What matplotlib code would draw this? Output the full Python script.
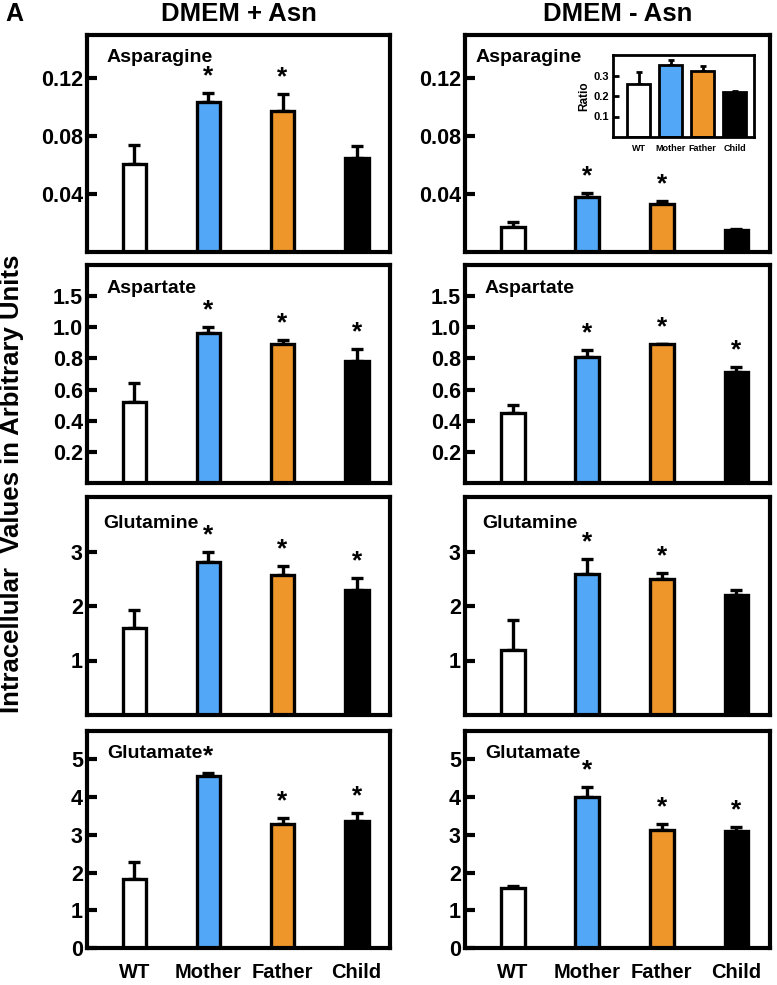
import numpy as np
import matplotlib
matplotlib.use('Agg')
import matplotlib.pyplot as plt

plt.rcParams['font.family'] = ['Liberation Sans', 'DejaVu Sans']
plt.rcParams['font.weight'] = 'bold'

# grupos e cores
groups = ['WT', 'Mother', 'Father', 'Child']
bar_colors = ['white', '#52A8F7', '#EF962B', 'black']

# valores (media, erro superior)
asn_plus = [0.061, 0.104, 0.0975, 0.065]
asn_plus_err = [0.013, 0.006, 0.0115, 0.008]
asn_minus = [0.0175, 0.038, 0.033, 0.0155]
asn_minus_err = [0.0035, 0.0027, 0.002, 0.0005]

asp_plus = [0.52, 0.963, 0.89, 0.786]
asp_plus_err = [0.12, 0.037, 0.03, 0.074]
asp_minus = [0.45, 0.807, 0.89, 0.71]
asp_minus_err = [0.05, 0.048, 0.005, 0.032]

gln_plus = [1.6, 2.8, 2.57, 2.3]
gln_plus_err = [0.33, 0.2, 0.17, 0.22]
gln_minus = [1.2, 2.59, 2.49, 2.2]
gln_minus_err = [0.54, 0.27, 0.11, 0.1]

glu_plus = [1.82, 4.55, 3.29, 3.36]
glu_plus_err = [0.47, 0.09, 0.16, 0.21]
glu_minus = [1.6, 4.0, 3.13, 3.11]
glu_minus_err = [0.05, 0.27, 0.16, 0.09]

# inset (DMEM - Asn, asparagina)
ratio = [0.26, 0.352, 0.32, 0.219]
ratio_err = [0.055, 0.025, 0.024, 0.003]

# asteriscos (significancia)
asn_plus_sig = [0, 1, 1, 0]
asn_minus_sig = [0, 1, 1, 0]
asp_plus_sig = [0, 1, 1, 1]
asp_minus_sig = [0, 1, 1, 1]
gln_plus_sig = [0, 1, 1, 1]
gln_minus_sig = [0, 1, 1, 0]
glu_plus_sig = [0, 1, 1, 1]
glu_minus_sig = [0, 1, 1, 1]

# ticks do eixo y (o original marca "1.5" no tick de 1.2)
asn_ticks = [0.04, 0.08, 0.12]
asn_ticklabels = ['0.04', '0.08', '0.12']
asp_ticks = [0.2, 0.4, 0.6, 0.8, 1.0, 1.2]
asp_ticklabels = ['0.2', '0.4', '0.6', '0.8', '1.0', '1.5']
gln_ticks = [1, 2, 3]
gln_ticklabels = ['1', '2', '3']
glu_ticks = [0, 1, 2, 3, 4, 5]
glu_ticklabels = ['0', '1', '2', '3', '4', '5']
ratio_ticks = [0.1, 0.2, 0.3]
ratio_ticklabels = ['0.1', '0.2', '0.3']

rows = [
    ('Asparagine', asn_plus, asn_plus_err, asn_plus_sig, asn_minus, asn_minus_err, asn_minus_sig,
     asn_ticks, asn_ticklabels, 0.15),
    ('Aspartate', asp_plus, asp_plus_err, asp_plus_sig, asp_minus, asp_minus_err, asp_minus_sig,
     asp_ticks, asp_ticklabels, 1.4),
    ('Glutamine', gln_plus, gln_plus_err, gln_plus_sig, gln_minus, gln_minus_err, gln_minus_sig,
     gln_ticks, gln_ticklabels, 4.0),
    ('Glutamate', glu_plus, glu_plus_err, glu_plus_sig, glu_minus, glu_minus_err, glu_minus_sig,
     glu_ticks, glu_ticklabels, 5.75),
]

fig = plt.figure(figsize=(7.77, 9.85), dpi=100)

W, H = 777, 985
col_x = [(87, 303), (465, 305)]
row_y = [(35, 252), (265, 483), (497, 715), (731, 948)]
label_pos = [[(107, 57), (476, 57)], [(107, 289), (485, 289)],
             [(103, 523), (482, 523)], [(107, 753), (485, 753)]]

x = np.arange(len(groups))


def draw_bars(ax, vals, errs, sig, width, lw, elw, capsize, star_size, star_off):
    ax.bar(x, vals, width=width, color=bar_colors, edgecolor='black', linewidth=lw, zorder=2)
    ax.errorbar(x, vals, yerr=[np.zeros(len(vals)), errs], fmt='none', ecolor='black',
                elinewidth=elw, capsize=capsize, capthick=elw, zorder=1)
    for i in range(len(vals)):
        if sig[i]:
            ax.annotate('*', (x[i], vals[i] + errs[i]), xytext=(0, star_off),
                        textcoords='offset points', ha='center', va='center',
                        fontsize=star_size, fontweight='bold')


def style_axis(ax, lw, ticklen, tickw, fs):
    for s in ax.spines.values():
        s.set_linewidth(lw)
    ax.tick_params(axis='y', direction='in', length=ticklen, width=tickw,
                   labelsize=fs, pad=3)
    ax.tick_params(axis='x', length=0)


for r, row in enumerate(rows):
    name, vp, ep, sp, vm, em, sm, ticks, ticklabels, ytop = row
    top, bot = row_y[r]
    for c in range(2):
        left, width = col_x[c]
        ax = fig.add_axes([left / W, 1 - bot / H, width / W, (bot - top) / H])
        if c == 0:
            draw_bars(ax, vp, ep, sp, 0.32, 2.4, 2.4, 4, 19, 12)
        else:
            draw_bars(ax, vm, em, sm, 0.32, 2.4, 2.4, 4, 19, 12)
        ax.set_xlim(-0.64, 3.45)
        ax.set_ylim(0, ytop)
        ax.set_yticks(ticks)
        ax.set_yticklabels(ticklabels, fontweight='bold')
        style_axis(ax, 3.0, 7, 3.0, 15.5)
        if r == 3:
            ax.set_xticks(x)
            ax.set_xticklabels(groups, fontsize=14.5, fontweight='bold')
            ax.tick_params(axis='x', pad=11)
        else:
            ax.set_xticks([])
        lx, ly = label_pos[r][c]
        fig.text(lx / W, 1 - ly / H, name, fontsize=14, fontweight='bold',
                 ha='left', va='center')
        if r == 0:
            title = 'DMEM + Asn' if c == 0 else 'DMEM - Asn'
            fig.text((left + width / 2) / W, 1 - 14 / H, title, fontsize=18.5,
                     fontweight='bold', ha='center', va='center')

# inset com a razao
axi = fig.add_axes([613 / W, 1 - 137 / H, 141 / W, 82 / H])
draw_bars(axi, ratio, ratio_err, [0, 0, 0, 0], 0.72, 2.0, 2.0, 2.5, 10, 5)
axi.set_xlim(-0.8, 3.6)
axi.set_ylim(0, 0.4)
axi.set_yticks(ratio_ticks)
axi.set_yticklabels(ratio_ticklabels, fontweight='bold')
style_axis(axi, 2.0, 4, 2.0, 8)
axi.set_xticks(x)
axi.set_xticklabels(groups, fontsize=6.5, fontweight='bold')
axi.tick_params(axis='x', pad=5)
axi.set_ylabel('Ratio', fontsize=8.5, fontweight='bold', labelpad=2)

fig.text(14 / W, 1 - 14 / H, 'A', fontsize=18, fontweight='bold', ha='center', va='center')
fig.text(12 / W, 1 - 484 / H, 'Intracellular  Values in Arbitrary Units', fontsize=18.5,
         fontweight='bold', rotation=90, ha='center', va='center')

fig.savefig('out.png', dpi=100)
